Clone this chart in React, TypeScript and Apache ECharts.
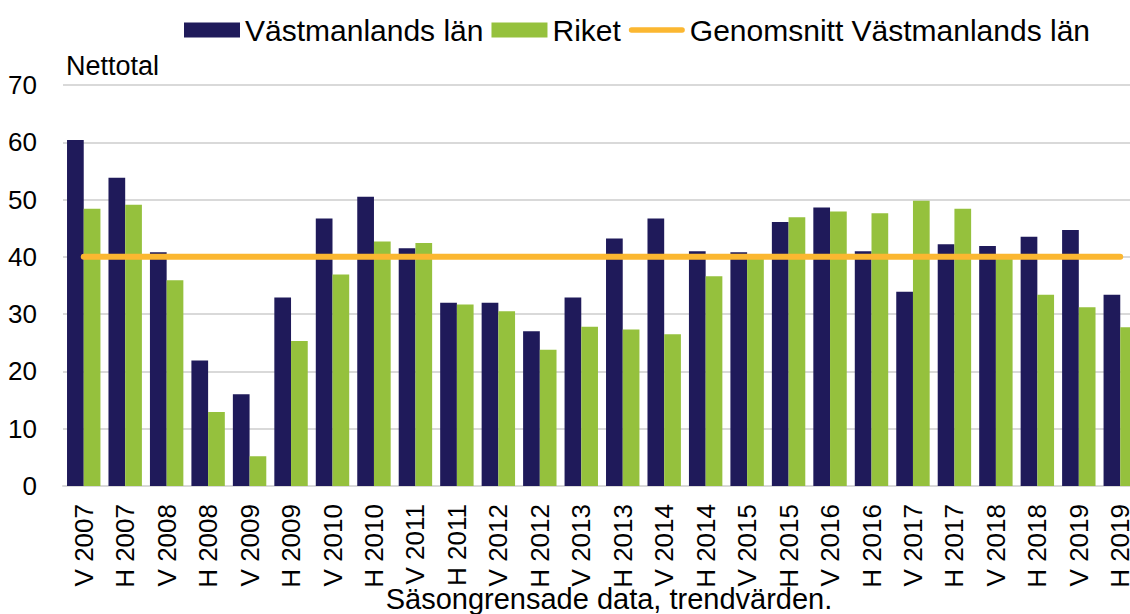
import React, { useEffect, useRef } from "react";
import * as echarts from "echarts";

const categories = [
  "V 2007", "H 2007", "V 2008", "H 2008", "V 2009", "H 2009", "V 2010", "H 2010",
  "V 2011", "H 2011", "V 2012", "H 2012", "V 2013", "H 2013", "V 2014", "H 2014",
  "V 2015", "H 2015", "V 2016", "H 2016", "V 2017", "H 2017", "V 2018", "H 2018",
  "V 2019", "H 2019",
];

const vastmanland = [
  60.4, 53.8, 40.8, 21.9, 16.0, 32.9, 46.7, 50.5,
  41.5, 32.0, 32.0, 27.0, 32.9, 43.2, 46.7, 41.0,
  40.8, 46.1, 48.6, 41.0, 33.9, 42.2, 41.9, 43.5,
  44.7, 33.4,
];

const riket = [
  48.4, 49.1, 35.9, 12.9, 5.2, 25.3, 36.9, 42.7,
  42.4, 31.7, 30.5, 23.8, 27.8, 27.3, 26.5, 36.6,
  39.8, 46.9, 47.9, 47.6, 49.8, 48.4, 39.9, 33.4,
  31.2, 27.7,
];

const averageValue = 40;
const average = categories.map(() => averageValue);

const yTicks = { min: 0, max: 70, interval: 10 };

const FONT = "'Liberation Sans', Arial, sans-serif";
const LINE_ICON = "path://M3,0 L59,0 A3,3 0 0 1 59,6 L3,6 A3,3 0 0 1 3,0 Z";

export default function App() {
  const ref = useRef<HTMLDivElement>(null);

  useEffect(() => {
    if (!ref.current) return;
    const chart = echarts.init(ref.current, undefined, { renderer: "svg" });
    chart.setOption({
      animation: false,
      backgroundColor: "#ffffff",
      textStyle: { fontFamily: FONT, color: "#000" },
      legend: {
        left: 179,
        top: 10,
        itemWidth: 56,
        itemHeight: 15,
        itemGap: 8,
        symbolKeepAspect: true,
        textStyle: { fontSize: 30, fontFamily: FONT, color: "#000" },
        data: [
          { name: "Västmanlands län", icon: "rect" },
          { name: "Riket", icon: "rect" },
          {
            name: "Genomsnitt Västmanlands län",
            icon: LINE_ICON,
            itemStyle: { color: "#fbb731" },
          },
        ],
      },
      grid: { left: 63, right: 0, top: 85, bottom: 128, containLabel: false },
      xAxis: {
        type: "category",
        data: categories,
        boundaryGap: true,
        axisTick: { show: false },
        axisLine: { show: true, lineStyle: { color: "#d9d9d9", width: 2 } },
        axisLabel: {
          rotate: 90,
          interval: 0,
          fontSize: 26,
          margin: 18,
          color: "#000",
          fontFamily: FONT,
        },
      },
      yAxis: {
        type: "value",
        min: yTicks.min,
        max: yTicks.max,
        interval: yTicks.interval,
        axisLine: { show: false },
        axisTick: { show: false },
        splitLine: { lineStyle: { color: "#d9d9d9", width: 2 } },
        axisLabel: { fontSize: 26, margin: 26, color: "#000", fontFamily: FONT },
      },
      graphic: [
        {
          type: "text",
          left: 66,
          top: 52,
          style: { text: "Nettotal", fontSize: 27, fontFamily: FONT, fill: "#000" },
        },
        {
          type: "text",
          x: 609,
          y: 599,
          style: {
            text: "Säsongrensade data, trendvärden.",
            fontSize: 29,
            fontFamily: FONT,
            fill: "#000",
            textAlign: "center",
            textVerticalAlign: "middle",
          },
        },
      ],
      series: [
        {
          name: "Västmanlands län",
          type: "bar",
          data: vastmanland,
          barGap: "0%",
          barCategoryGap: "19.4%",
          itemStyle: { color: "#1f1a5a" },
        },
        {
          name: "Riket",
          type: "bar",
          data: riket,
          barGap: "0%",
          barCategoryGap: "19.4%",
          itemStyle: { color: "#95c13d" },
        },
        {
          name: "Genomsnitt Västmanlands län",
          type: "line",
          data: average,
          symbol: "none",
          showSymbol: false,
          z: 5,
          lineStyle: { color: "#fbb731", width: 6, cap: "round" },
          itemStyle: { color: "#fbb731" },
        },
      ],
    });
    return () => chart.dispose();
  }, []);

  return (
    <div
      style={{
        position: "absolute",
        left: 0,
        top: 0,
        width: 1130,
        height: 614,
        overflow: "hidden",
        background: "#fff",
      }}
    >
      <div ref={ref} style={{ width: 1141, height: 614 }} />
    </div>
  );
}
